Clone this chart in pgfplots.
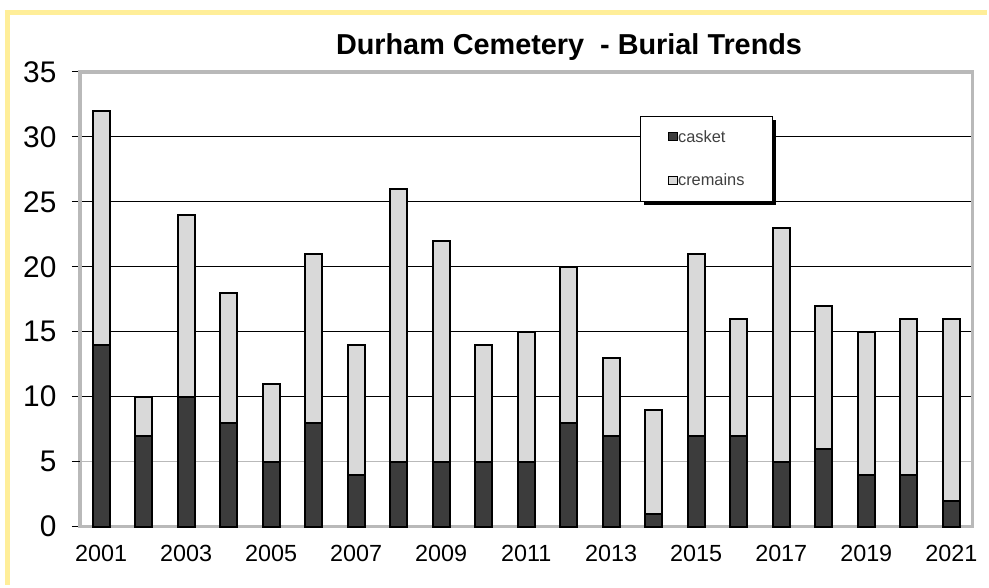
\documentclass[border=0pt]{standalone}
\usepackage{pgfplots}
\pgfplotsset{compat=1.18}
\usepackage{fontspec}
\setmainfont{Liberation Sans}
\definecolor{casket}{HTML}{3C3C3C}
\definecolor{cremains}{HTML}{D9D9D9}
\definecolor{frameyellow}{HTML}{FFEE99}
\begin{document}
\begin{tikzpicture}
\begin{axis}[
  scale only axis, width=895bp, height=456bp,
  xmin=-0.5, xmax=20.5, ymin=0, ymax=35,
  ybar stacked, bar width=17bp,
  clip=false,
  axis line style={draw=gray!55, line width=3.5bp},
  xtick={0,2,...,20},
  xticklabels={2001,2003,2005,2007,2009,2011,2013,2015,2017,2019,2021},
  x tick label style={font=\fontsize{23.5}{25}\selectfont, yshift=-7bp},
  xtick style={draw=none},
  ytick={0,10,15,20,25,30,35},
  extra y ticks={5},
  extra y tick style={grid style={gray!55, line width=1bp}},
  /pgf/number format/assume math mode=true,
  yticklabel style={font=\fontsize{30}{32}\selectfont},
  yticklabel shift=12bp,
  ytick pos=left, tick align=outside, major tick length=8bp,
  ytick style={draw=black, line width=1bp},
  ymajorgrids, grid style={black, line width=1bp},
  legend style={at={(rel axis cs:0.628,0.903)}, anchor=north west, name=leg,
    draw=black, line width=0.6bp, fill=white,
    font=\fontsize{16.5}{18}\selectfont, text=black!75,
    inner xsep=27bp, inner ysep=14bp, row sep=30bp,
    nodes={inner xsep=0.5bp, inner ysep=0bp}},
  legend cell align=left,
  legend image code/.code={\draw[#1, draw=black, line width=0.9bp] (0bp,-4bp) rectangle (9bp,4bp);},
]
\addplot[fill=casket, draw=black, line width=2bp] coordinates {
(0,14) (1,7) (2,10) (3,8) (4,5) (5,8) (6,4) (7,5) (8,5) (9,5) (10,5)
(11,8) (12,7) (13,1) (14,7) (15,7) (16,5) (17,6) (18,4) (19,4) (20,2)};
\addlegendentry{casket}
\addplot[fill=cremains, draw=black, line width=2bp] coordinates {
(0,18) (1,3) (2,14) (3,10) (4,6) (5,13) (6,10) (7,21) (8,17) (9,9) (10,10)
(11,12) (12,6) (13,8) (14,14) (15,9) (16,18) (17,11) (18,11) (19,12) (20,14)};
\addlegendentry{cremains}
\node[anchor=base, font=\bfseries\fontsize{29}{31}\selectfont, yshift=17bp] at (rel axis cs:0.548,1) {Durham Cemetery\ \ - Burial Trends};
\coordinate (O) at (rel axis cs:0,0);
\end{axis}
\fill[black] ([shift={(0bp,-4bp)}]leg.north east) rectangle ([shift={(4bp,-4bp)}]leg.south east);
\fill[black] ([shift={(4bp,0bp)}]leg.south west) rectangle ([shift={(4bp,-4bp)}]leg.south east);
\path ([shift={(-80bp,-58bp)}]O) coordinate (BL) rectangle ++(989bp,586bp);
\draw[frameyellow, line width=5bp] ([shift={(5bp,573.5bp)}]BL) -- ([shift={(989bp,573.5bp)}]BL);
\draw[frameyellow, line width=5bp] ([shift={(7.5bp,0bp)}]BL) -- ([shift={(7.5bp,576bp)}]BL);
\end{tikzpicture}
\end{document}
